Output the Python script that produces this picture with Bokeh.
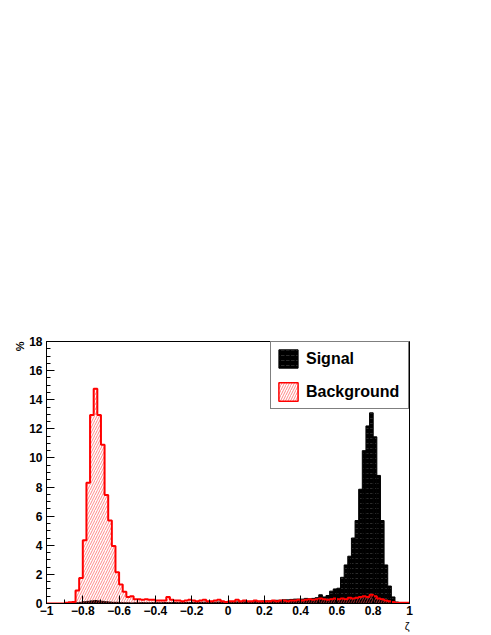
import numpy as np
from bokeh.plotting import figure
from bokeh.models import FixedTicker, Legend, LegendItem, Range1d, Title
from bokeh.embed import file_html
from bokeh.resources import INLINE

# ---------------- data ----------------
x_min, x_max, n_bins = -1.0, 1.0, 100

signal = [
    0, 0, 0, 0, 0, 0, 0, 0.02, 0.05, 0.08,
    0.12, 0.15, 0.18, 0.2, 0.18, 0.15, 0.12, 0.1, 0.08, 0.08,
    0.06, 0.05, 0.05, 0.04, 0.05, 0.05, 0.06, 0.05, 0.05, 0.06,
    0.06, 0.05, 0.07, 0.06, 0.06, 0.07, 0.06, 0.08, 0.07, 0.07,
    0.08, 0.07, 0.08, 0.09, 0.08, 0.08, 0.09, 0.1, 0.09, 0.1,
    0.1, 0.1, 0.11, 0.12, 0.12, 0.13, 0.14, 0.15, 0.15, 0.17,
    0.18, 0.18, 0.2, 0.22, 0.22, 0.25, 0.25, 0.28, 0.3, 0.3,
    0.3, 0.35, 0.32, 0.35, 0.4, 0.6, 0.45, 0.55, 0.85, 1.0,
    1.05, 1.8, 2.65, 3.25, 4.5, 5.7, 7.85, 10.5, 12.2, 13.1,
    11.45, 8.8, 5.7, 2.65, 1.2, 0.45, 0.1, 0.02, 0, 0,
]

background = [
    0, 0, 0, 0, 0, 0.05, 0.08, 0.1, 0.9, 1.75,
    4.35, 8.3, 12.95, 14.75, 12.95, 10.9, 7.45, 5.7, 3.95, 2.15,
    1.3, 0.8, 0.45, 0.5, 0.3, 0.3, 0.25, 0.3, 0.25, 0.25,
    0.2, 0.2, 0.2, 0.45, 0.25, 0.2, 0.2, 0.15, 0.2, 0.25,
    0.2, 0.15, 0.2, 0.25, 0.15, 0.15, 0.2, 0.25, 0.15, 0.1,
    0.15, 0.15, 0.25, 0.15, 0.2, 0.15, 0.15, 0.2, 0.15, 0.15,
    0.15, 0.15, 0.2, 0.15, 0.2, 0.2, 0.15, 0.2, 0.2, 0.25,
    0.2, 0.25, 0.3, 0.25, 0.3, 0.35, 0.3, 0.25, 0.3, 0.35,
    0.3, 0.35, 0.3, 0.4, 0.35, 0.4, 0.45, 0.5, 0.45, 0.6,
    0.5, 0.35, 0.3, 0.2, 0.15, 0.1, 0.05, 0.05, 0.05, 0.05,
]

x_ticks = [-1, -0.8, -0.6, -0.4, -0.2, 0, 0.2, 0.4, 0.6, 0.8, 1]
x_tick_labels = ["\u22121", "\u22120.8", "\u22120.6", "\u22120.4", "\u22120.2",
                 "0", "0.2", "0.4", "0.6", "0.8", "1"]
y_ticks = [0, 2, 4, 6, 8, 10, 12, 14, 16, 18]
y_tick_labels = ["0", "2", "4", "6", "8", "10", "12", "14", "16", "18"]

series_names = ["Signal", "Background"]
x_title = "\u03b6"
y_title = "%"

# ---------------- figure ----------------
FONT = "Liberation Sans"
edges = np.linspace(x_min, x_max, n_bins + 1)
left, right = edges[:-1], edges[1:]
sig = np.array(signal, dtype=float)
bkg = np.array(background, dtype=float)

p = figure(frame_width=363, frame_height=262,
           x_range=Range1d(x_min, x_max), y_range=Range1d(0, 18),
           output_backend="svg", toolbar_location=None,
           min_border_left=46, min_border_right=76,
           min_border_top=341, min_border_bottom=30)
p.background_fill_color = "white"
p.border_fill_color = "white"
p.outline_line_color = "black"
p.outline_line_width = 1
p.xgrid.visible = False
p.ygrid.visible = False

# signal histogram (black, faint dotted pattern)
sig_style = dict(fill_color="black", line_color="black", line_width=1,
                 hatch_pattern='"', hatch_color="#5a5a5a", hatch_scale=5,
                 hatch_weight=0.6, hatch_alpha=0.8)
sig_r = p.quad(left=left, right=right, bottom=np.zeros_like(sig), top=sig, **sig_style)

# background histogram: red hatch + red outline
hatch_red = dict(hatch_pattern="/", hatch_color="#ff4040", hatch_scale=5,
                 hatch_weight=0.7, hatch_alpha=0.9)
p.quad(left=left, right=right, bottom=np.zeros_like(bkg), top=bkg,
       fill_color=None, line_color=None, **hatch_red)
p.step(x=edges, y=np.append(bkg, bkg[-1]), mode="after",
       line_color="red", line_width=2)

# hidden proxy for the background legend swatch (red border + hatch)
bkg_leg = p.quad(left=left, right=right, bottom=np.zeros_like(bkg), top=bkg,
                 fill_color=None, line_color="red", line_width=1.5,
                 visible=False, **hatch_red)

legend = Legend(items=[LegendItem(label=series_names[0], renderers=[sig_r]),
                       LegendItem(label=series_names[1], renderers=[bkg_leg])],
                location="top_right", orientation="vertical",
                glyph_width=24, glyph_height=23, label_height=23,
                label_width=97, label_standoff=6, padding=5, spacing=10,
                margin=0, border_line_color="black", border_line_width=1,
                background_fill_color="white", background_fill_alpha=1,
                label_text_font=FONT, label_text_font_style="bold",
                label_text_font_size="16px", label_text_color="black")
p.add_layout(legend)

# axes
xa, ya = p.xaxis[0], p.yaxis[0]
xa.ticker = FixedTicker(ticks=x_ticks,
                        minor_ticks=list(np.round(np.arange(-1, 1.0001, 0.1), 2)))
ya.ticker = FixedTicker(ticks=y_ticks,
                        minor_ticks=list(np.arange(0, 18.001, 0.5)))
xa.major_label_overrides = dict(zip(x_ticks, x_tick_labels))
ya.major_label_overrides = dict(zip(y_ticks, y_tick_labels))
for ax in (xa, ya):
    ax.major_tick_in = 8
    ax.major_tick_out = 0
    ax.minor_tick_in = 4
    ax.minor_tick_out = 0
    ax.axis_line_color = "black"
    ax.major_tick_line_color = "black"
    ax.minor_tick_line_color = "black"
    ax.major_label_text_font = FONT
    ax.major_label_text_font_style = "bold"
    ax.major_label_text_font_size = "12px"
    ax.major_label_text_color = "black"
xa.major_label_standoff = 2
ya.major_label_standoff = 4

# axis titles
p.add_layout(Title(text=x_title, align="right", text_font=FONT,
                   text_font_size="11px", text_font_style="normal",
                   text_color="black", standoff=0, offset=0), "below")
p.add_layout(Title(text=y_title, align="right", text_font=FONT,
                   text_font_size="11px", text_font_style="bold",
                   text_color="black", standoff=2, offset=0), "left")

open("out.html", "w").write(file_html(p, INLINE))
